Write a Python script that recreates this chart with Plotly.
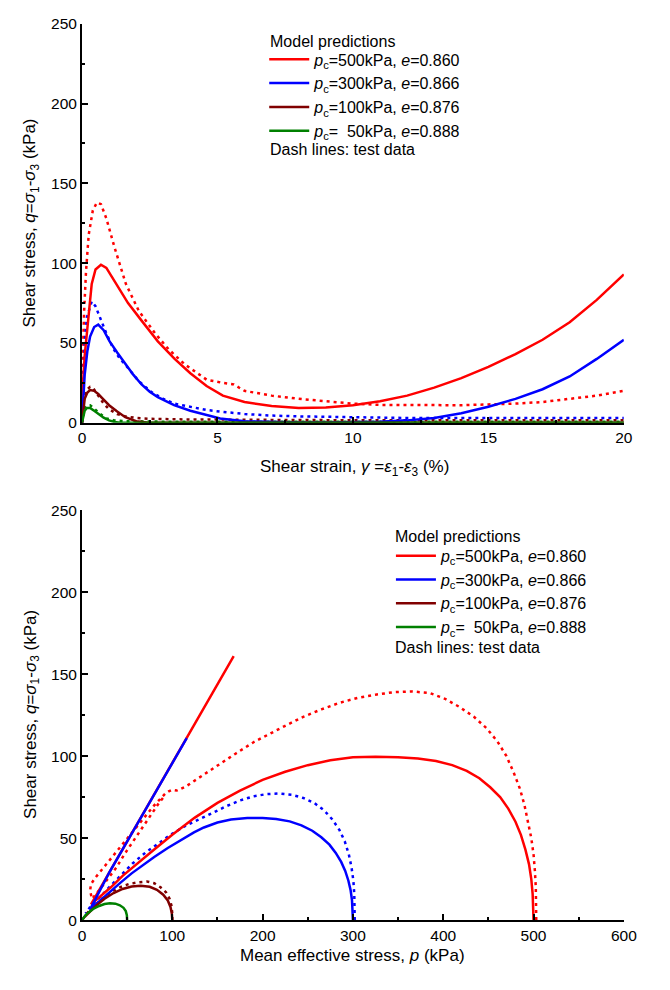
import plotly.graph_objects as go

# ---------------- data: top panel (shear strain %, shear stress kPa) ----------------
g_m500 = [0, 0.04, 0.1, 0.18, 0.27, 0.36, 0.5, 0.7, 0.9, 1.26, 1.7, 2.2, 2.8, 3.42, 4.0, 4.6, 5.2, 6, 7, 8, 9, 10, 11, 12, 13, 14, 15, 16, 17, 18, 19, 20]
q_m500 = [0, 25, 42, 56, 74, 87, 96, 99, 97, 87, 75, 64, 51, 40, 31, 23, 17, 13, 10.5, 9.3, 9.5, 11, 13.5, 17, 22, 28, 35, 43, 52, 63, 77, 93]
g_t500 = [0, 0.03, 0.08, 0.15, 0.25, 0.4, 0.55, 0.7, 0.9, 1.2, 1.62, 2.1, 2.7, 3.2, 3.8, 4.6, 5.2, 5.6, 6, 7, 8, 9, 10, 11, 12, 13, 14, 15, 16, 17, 18, 19, 20]
q_t500 = [0, 40, 70, 95, 118, 133, 138, 137, 128, 110, 87, 70, 56, 46, 36.5, 27, 25, 24, 20, 17, 15, 13.5, 12, 11.2, 11, 10.8, 11, 11.5, 12, 13, 15, 17, 20]

g_m300 = [0, 0.05, 0.1, 0.2, 0.3, 0.45, 0.6, 0.8, 1.02, 1.3, 1.62, 1.9, 2.2, 2.5, 2.8, 3.1, 3.4, 4.0, 4.6, 5.1, 6, 7, 8, 9, 10, 11, 12, 13, 14, 15, 16, 17, 18, 19, 20]
q_m300 = [0, 18, 30, 45, 54, 60, 61.5, 58, 51, 44, 36.5, 30, 24, 19.5, 16, 13.5, 11, 7.5, 5, 2.7, 1, 0.4, 0.2, 0.2, 0.3, 0.6, 1.5, 3, 6, 10, 15, 21, 29, 40, 52]
g_t300 = [0, 0.05, 0.1, 0.18, 0.36, 0.5, 0.66, 0.9, 1.14, 1.4, 1.62, 2.1, 2.58, 3.0, 3.4, 4.0, 4.6, 5.1, 6, 7, 8, 10, 12, 14, 16, 18, 20]
q_t300 = [0, 30, 50, 66, 76, 73, 66, 56, 47, 40, 36, 26, 19, 15, 12, 10, 8, 7, 5.5, 4.5, 4, 3.5, 3, 3, 3, 3, 3]

g_m100 = [0, 0.05, 0.1, 0.2, 0.3, 0.45, 0.6, 0.8, 1.0, 1.3, 1.6, 2.0, 2.4, 3, 20]
q_m100 = [0, 10, 15, 19, 20.5, 20, 18, 14.5, 11, 7, 3.5, 1, 0.2, 0, 0]
g_t100 = [0, 0.05, 0.1, 0.2, 0.3, 0.4, 0.6, 0.8, 1.0, 1.3, 1.6, 2, 2.5, 3, 4, 5, 6, 8, 10, 12, 14, 16, 18, 20]
q_t100 = [0, 12, 17, 21, 22.5, 22, 17, 12, 8.5, 5.5, 4, 3, 2.5, 2.2, 2, 2, 1.8, 1.7, 1.6, 1.5, 1.5, 1.5, 1.5, 1.5]

g_m50 = [0, 0.05, 0.1, 0.18, 0.3, 0.45, 0.6, 0.8, 1.0, 1.2, 1.4, 20]
q_m50 = [0, 5, 7.5, 9.2, 9.3, 7.5, 5.5, 3.2, 1.5, 0.5, 0, 0]
g_t50 = [0, 0.05, 0.1, 0.2, 0.3, 0.45, 0.6, 0.9, 1.2, 1.6, 2, 3, 5, 8, 12, 16, 20]
q_t50 = [0, 6, 9, 11, 11, 9, 6.5, 2.7, 1.5, 1, 0.8, 0.7, 0.7, 0.6, 0.6, 0.6, 0.6]

# ---------------- data: bottom panel (mean effective stress p, shear stress q) ----------------
p_m500 = [500, 499.8, 499, 497.5, 495, 491, 486, 480, 472, 463, 452, 440, 426, 410, 392, 372, 350, 325, 300, 275, 250, 225, 200, 175, 150, 125, 100, 80, 60, 45, 32, 22, 15, 10, 30, 60, 90, 116, 140, 168]
pq_m500 = [0, 8, 16, 25, 34, 43, 52, 60, 68, 75, 81, 86.5, 91, 94.5, 97, 98.6, 99.4, 99.6, 99.3, 97.5, 94.5, 90.5, 85.5, 79, 71.5, 62.5, 52, 43, 34, 27, 20, 15, 11.5, 9.6, 28.8, 57.6, 86.4, 111, 134, 161]
p_t500 = [503, 503, 502.5, 501.5, 500, 497.5, 494, 490, 485, 478, 470, 460, 448, 434, 418, 402, 385, 365, 345, 325, 305, 285, 265, 245, 225, 205, 190, 170, 149, 130, 115, 105, 100, 96, 92,
          80, 65, 50, 30, 15, 10, 9, 11, 16, 27, 38, 48, 59, 69, 78, 86, 92]
pq_t500 = [0, 10, 20, 30, 40, 50, 60, 70, 80, 90, 100, 109, 117, 124, 130, 135, 138.5, 139.5, 139, 137.5, 135.5, 132.5, 128.5, 124, 118.5, 113, 108.5, 101.5, 94, 87, 81.5, 79, 79.5, 78.5, 77,
           70, 60, 50, 36, 26, 22, 18, 13, 16, 24, 32, 41, 50, 58.5, 66, 72, 76]

p_m300 = [300, 299.8, 299, 297.5, 295, 291.5, 287, 281, 274, 265, 255, 243, 230, 215, 200, 183, 165, 150, 135, 124, 110, 95, 80, 67, 55, 43, 30, 18, 9, 30, 60, 90, 116]
pq_m300 = [0, 6, 12, 18, 24, 30, 35.5, 41, 46, 50.5, 54.5, 57.8, 60.2, 61.6, 62.2, 62.2, 61.3, 59.5, 56.5, 53.5, 49, 44, 38.5, 33.5, 28.5, 23, 16.5, 10.5, 6.5, 28.8, 57.6, 86.4, 111]
p_t300 = [302, 302, 301.5, 300.5, 298.5, 295.5, 291, 285, 277, 268, 257, 245, 232, 218, 204, 190, 175, 160, 145, 130, 113, 98, 85, 70, 56, 42, 30, 20, 9, 4]
pq_t300 = [0, 8, 16, 24, 32, 40, 48, 55, 61.5, 67, 71.5, 74.5, 76.5, 77.2, 76.8, 75.5, 73, 69.5, 65.5, 61.5, 57, 52, 47, 41, 34.5, 27, 20, 14, 8, 4]

p_m100 = [100, 99.5, 98, 95, 90, 83, 75, 65, 55, 45, 35, 25, 16, 8, 3, 0]
pq_m100 = [0, 4, 8, 12, 15.5, 18.5, 20.3, 21, 20.5, 19, 16.5, 13, 9, 5, 2, 0]
p_t100 = [100, 100, 99, 97, 93, 87, 80, 72, 62, 52, 42, 32, 22, 14, 7, 3]
pq_t100 = [0, 4, 9, 13, 17, 20, 22.5, 23.5, 23, 22, 20, 17, 13, 9, 5, 2.5]

p_m50 = [50, 49.7, 48.5, 46, 42, 37, 31, 25, 19, 13, 8, 4, 0]
pq_m50 = [0, 3, 5.5, 7.5, 9, 10, 10.2, 9.8, 8.6, 7, 5, 3, 0]

labels = ["<i>p</i><sub>c</sub>=500kPa, <i>e</i>=0.860",
          "<i>p</i><sub>c</sub>=300kPa, <i>e</i>=0.866",
          "<i>p</i><sub>c</sub>=100kPa, <i>e</i>=0.876",
          "<i>p</i><sub>c</sub>=\u00a0\u00a050kPa, <i>e</i>=0.888"]
colors = ["#FF0000", "#0000FF", "#800000", "#008000"]

FONT = "Liberation Sans, Arial, sans-serif"
LW = 2.5
DOT = "3px,4px"

fig = go.Figure()

top_model = [(g_m500, q_m500), (g_m300, q_m300), (g_m100, q_m100), (g_m50, q_m50)]
top_test = [(g_t500, q_t500), (g_t300, q_t300), (g_t100, q_t100), (g_t50, q_t50)]
bot_model = [(p_m500, pq_m500), (p_m300, pq_m300), (p_m100, pq_m100), (p_m50, pq_m50)]
bot_test = [(p_t500, pq_t500), (p_t300, pq_t300), (p_t100, pq_t100)]

for i, (x, y) in enumerate(top_test):
    fig.add_trace(go.Scatter(x=x, y=y, mode="lines", xaxis="x", yaxis="y",
                             line=dict(color=colors[i], width=LW, dash=DOT), showlegend=False))
for i, (x, y) in enumerate(top_model):
    fig.add_trace(go.Scatter(x=x, y=y, mode="lines", xaxis="x", yaxis="y", name=labels[i],
                             legend="legend", legendgroup="t%d" % i, legendrank=i,
                             line=dict(color=colors[i], width=LW)))
for i, (x, y) in enumerate(bot_test):
    fig.add_trace(go.Scatter(x=x, y=y, mode="lines", xaxis="x2", yaxis="y2",
                             line=dict(color=colors[i], width=LW, dash=DOT), showlegend=False))
for i, (x, y) in enumerate(bot_model):
    fig.add_trace(go.Scatter(x=x, y=y, mode="lines", xaxis="x2", yaxis="y2", name=labels[i],
                             legend="legend2", legendgroup="b%d" % i, legendrank=i,
                             line=dict(color=colors[i], width=LW)))

W, H = 670, 990
x0, x1 = 80 / W, 636 / W

def ax(domain, rng, dtick, minor, anchor):
    return dict(domain=domain, range=rng, dtick=dtick, tick0=0, anchor=anchor,
                showline=True, linecolor="black", linewidth=1.8, mirror=False,
                ticks="inside", ticklen=6, tickwidth=1.5, tickcolor="black",
                minor=dict(dtick=minor, ticks="inside", ticklen=3, tickwidth=1.5, tickcolor="black"),
                showgrid=False, zeroline=False,
                tickfont=dict(family=FONT, size=15.5, color="black"))

leg = dict(font=dict(family=FONT, size=16, color="black"), bgcolor="rgba(0,0,0,0)",
           itemwidth=40, tracegroupgap=0, traceorder="normal", xanchor="left", yanchor="top",
           borderwidth=0)

fig.update_layout(
    width=W, height=H, margin=dict(l=0, r=0, t=0, b=0),
    paper_bgcolor="white", plot_bgcolor="white",
    xaxis=ax([x0, x1], [0, 20], 5, 2.5, "y"),
    yaxis=ax([1 - 421 / H, 1 - 15 / H], [0, 250], 50, 25, "x"),
    xaxis2=ax([x0, x1], [0, 600], 100, 50, "y2"),
    yaxis2=ax([1 - 927 / H, 1 - 510 / H], [0, 250], 50, 25, "x2"),
    legend=dict(leg, x=267 / W, y=1 - 34 / H),
    legend2=dict(leg, x=397 / W, y=1 - 539 / H),
    showlegend=True,
)

tfont = dict(family=FONT, size=17, color="black")
ann = [
    dict(text="Shear stress, <i>q</i>=<i>σ</i><sub>1</sub>-<i>σ</i><sub>3</sub> (kPa)", x=28 / W, y=1 - 218 / H, textangle=-90),
    dict(text="Shear stress, <i>q</i>=<i>σ</i><sub>1</sub>-<i>σ</i><sub>3</sub> (kPa)", x=28 / W, y=1 - 718 / H, textangle=-90),
    dict(text="Shear strain, <i>γ</i> =<i>ε</i><sub>1</sub>-<i>ε</i><sub>3</sub> (%)", x=360 / W, y=1 - 467 / H),
    dict(text="Mean effective stress, <i>p</i> (kPa)", x=358 / W, y=1 - 963 / H),
]
for a in ann:
    fig.add_annotation(xref="paper", yref="paper", showarrow=False, font=tfont,
                       xanchor="center", yanchor="middle", **a)
lfont = dict(family=FONT, size=16, color="black")
for (xx, yy, txt) in [(271, 33, "Model predictions"), (271, 143, "Dash lines: test data"),
                      (399, 537, "Model predictions"), (399, 650, "Dash lines: test data")]:
    fig.add_annotation(text=txt, xref="paper", yref="paper", showarrow=False,
                       x=xx / W, y=1 - yy / H, xanchor="left", yanchor="middle", font=lfont)

fig.write_html("out.html")
